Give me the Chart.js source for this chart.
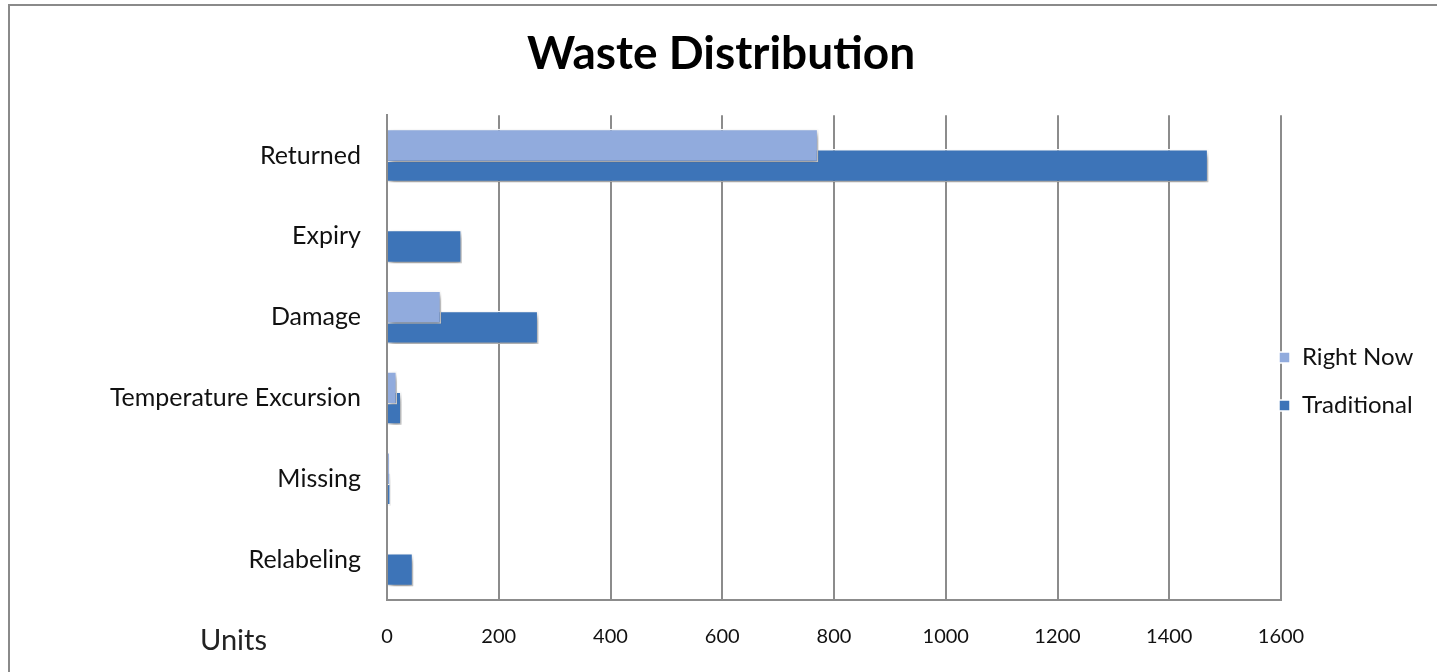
<!DOCTYPE html>
<html>
<head>
<meta charset="utf-8">
<script src="https://cdn.jsdelivr.net/npm/chart.js@4"></script>
<style>
html,body{margin:0;padding:0;background:#fff;}
#wrap{position:relative;width:1442px;height:672px;overflow:hidden;}
#frame{position:absolute;left:8px;top:4px;width:1427px;height:700px;border-left:2px solid #8a8a8a;border-top:2px solid #8a8a8a;}
canvas{position:absolute;left:0;top:0;}
</style>
</head>
<body>
<div id="wrap"><div id="frame"></div><canvas id="c" width="1442" height="672" style="width:1442px;height:672px"></canvas></div>
<script>
const categories = ["Returned", "Expiry", "Damage", "Temperature Excursion", "Missing", "Relabeling"];
const rightNow = [772, 0, 97, 18, 5, 0];
const traditional = [1470, 134, 271, 26, 7, 47];
const seriesNames = ["Right Now", "Traditional"];
const xMin = 0, xMax = 1600, xStep = 200;
const axisTitle = "Units";
const chartTitle = "Waste Distribution";

const FONT = "Lato, 'Noto Sans', sans-serif";
const GRID = "#8c8c8c";

const shadowPlugin = {
  id: 'barShadow',
  beforeDatasetsDraw(chart) {
    const c = chart.ctx;
    c.save();
    c.shadowColor = 'rgba(0,0,0,0.4)';
    c.shadowBlur = 6;
    c.shadowOffsetX = 2;
    c.shadowOffsetY = 4;
  },
  afterDatasetsDraw(chart) { chart.ctx.restore(); }
};

const legendPlace = {
  id: 'legendPlace',
  afterLayout(chart) {
    const lg = chart.legend;
    const pad = lg.options.labels.padding;
    const dx = lg.left + pad - (chart.chartArea.right - 2);
    lg.left -= dx; lg.right -= dx;
    lg.top += 24; lg.bottom += 24;
  }
};

const unitsPlugin = {
  id: 'unitsLabel',
  afterDraw(chart) {
    const c = chart.ctx;
    const xs = chart.scales.x;
    c.save();
    c.font = "29px " + FONT;
    c.fillStyle = "#222";
    c.textAlign = "left";
    c.textBaseline = "middle";
    c.fillText(axisTitle, chart.chartArea.left - 187, xs.bottom - 31);
    c.restore();
  }
};

new Chart(document.getElementById('c'), {
  type: 'bar',
  data: {
    labels: categories,
    datasets: [
      { label: seriesNames[0], data: rightNow, backgroundColor: '#91abdd', borderColor: '#ffffff', borderWidth: 1.5, categoryPercentage: 0.5, barPercentage: 1.65 },
      { label: seriesNames[1], data: traditional, backgroundColor: '#3d74b8', borderColor: '#ffffff', borderWidth: 1.5, categoryPercentage: 0.5, barPercentage: 1.65 }
    ]
  },
  options: {
    indexAxis: 'y',
    responsive: false,
    animation: false,
    layout: { padding: { left: 0, right: 0, top: 0, bottom: 0 } },
    plugins: {
      title: {
        display: true, text: chartTitle, color: '#000',
        font: { family: FONT, size: 46, weight: 'bold' },
        padding: { top: 27, bottom: 33 }
      },
      legend: {
        position: 'right', align: 'center', fullSize: false, maxWidth: 161,
        labels: { color: '#111', font: { family: FONT, size: 24 }, boxWidth: 11, boxHeight: 11, padding: 24 }
      },
      tooltip: { enabled: false }
    },
    scales: {
      x: {
        min: xMin, max: xMax,
        ticks: { stepSize: xStep, color: '#111', font: { family: FONT, size: 20 }, padding: 25,
          callback: (v) => String(v) },
        grid: { color: GRID, lineWidth: 2, drawTicks: false },
        border: { color: GRID, width: 2 },
        afterFit(scale) { scale.height = 72; }
      },
      y: {
        ticks: { color: '#111', font: { family: FONT, size: 25 }, padding: 26 },
        grid: { display: false, drawTicks: false },
        border: { display: true, color: GRID, width: 2 },
        afterFit(scale) { scale.width = 387; }
      }
    }
  },
  plugins: [shadowPlugin, legendPlace, unitsPlugin]
});
</script>
</body>
</html>
